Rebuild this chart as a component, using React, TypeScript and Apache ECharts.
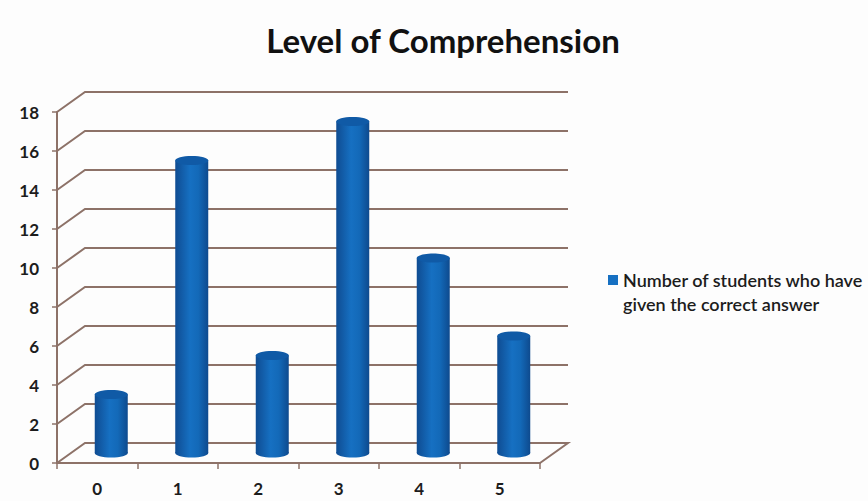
import React, { useEffect, useRef } from "react";
import * as echarts from "echarts";

const chartTitle = "Level of Comprehension";
const scores = ["0", "1", "2", "3", "4", "5"];
const studentCounts = [3, 15, 5, 17, 10, 6];
const seriesName = "Number of students who have\ngiven the correct answer";
const wallTicks = [0, 2, 4, 6, 8, 10, 12, 14, 16, 18];

const DEPTH_X = 28;
const DEPTH_Y = 20;
const FONT = "Lato, 'Noto Sans', sans-serif";
const LINE = "#8d7268";
const INK = "#1c1c1c";

const cylinderFill = {
  type: "linear",
  x: 0,
  y: 0,
  x2: 1,
  y2: 0,
  colorStops: [
    { offset: 0, color: "#0f4c92" },
    { offset: 0.45, color: "#1670c2" },
    { offset: 0.7, color: "#1369b8" },
    { offset: 1, color: "#0e4a8e" },
  ],
};

// Back wall and side wall rules, drawn behind the columns with the depth offset.
function renderWall(params: any, api: any) {
  const y = api.coord([0, api.value(1)])[1];
  const { x, width } = params.coordSys;
  const points: number[][] = [
    [x, y],
    [x + DEPTH_X, y - DEPTH_Y],
    [x + width + DEPTH_X, y - DEPTH_Y],
  ];
  if (api.value(1) === 0) points.push([x + width, y]);
  return {
    type: "polyline",
    shape: { points },
    style: { stroke: LINE, lineWidth: 2, fill: "none" },
    silent: true,
  };
}

// A column is a shaded body with rounded foot and a darker elliptical cap.
function renderCylinder(params: any, api: any) {
  const top = api.coord([api.value(0), api.value(1)]);
  const base = api.coord([api.value(0), 0]);
  const cx = top[0] + DEPTH_X / 2;
  const topY = top[1] - DEPTH_Y / 2;
  const baseY = base[1] - DEPTH_Y / 2;
  const rx = 16.5;
  const ry = 4.5;
  return {
    type: "group",
    children: [
      {
        type: "ellipse",
        shape: { cx, cy: baseY, rx, ry },
        style: { fill: cylinderFill },
      },
      {
        type: "rect",
        shape: { x: cx - rx, y: topY, width: rx * 2, height: baseY - topY },
        style: { fill: cylinderFill },
      },
      {
        type: "ellipse",
        shape: { cx, cy: topY, rx, ry },
        style: { fill: "#105aa6" },
      },
    ],
  };
}

export default function App() {
  const ref = useRef<HTMLDivElement>(null);

  useEffect(() => {
    const chart = echarts.init(ref.current!, undefined, { renderer: "svg" });
    chart.setOption({
      animation: false,
      backgroundColor: "#fdfdfd",
      title: {
        text: chartTitle,
        left: 438,
        top: 18,
        padding: 5,
        textAlign: "center",
        textStyle: { fontFamily: FONT, fontSize: 33, fontWeight: "bold", color: "#111" },
      },
      legend: {
        left: 608,
        top: 244,
        padding: 0,
        icon: "rect",
        itemWidth: 10,
        itemHeight: 10,
        itemGap: 0,
        selectedMode: false,
        data: [seriesName],
        // The blank first line centres the name's first line on the swatch.
        formatter: (name: string) => "\n" + name,
        textStyle: {
          fontFamily: FONT,
          fontSize: 18,
          fontWeight: 600,
          color: INK,
          lineHeight: 24,
        },
      },
      grid: { left: 57, right: 328, top: 112, bottom: 38 },
      xAxis: {
        type: "category",
        data: scores,
        axisLine: { lineStyle: { color: LINE, width: 2 } },
        axisTick: { show: true, length: 6, lineStyle: { color: LINE, width: 1.5 } },
        axisLabel: { fontFamily: FONT, fontSize: 17, fontWeight: "bold", color: INK, margin: 17 },
      },
      yAxis: {
        type: "value",
        min: 0,
        max: 18,
        interval: 2,
        splitLine: { show: false },
        axisLine: { show: true, lineStyle: { color: LINE, width: 2 } },
        axisTick: { show: true, length: 5, lineStyle: { color: LINE, width: 1.5 } },
        axisLabel: { fontFamily: FONT, fontSize: 17, fontWeight: "bold", color: INK, margin: 18 },
      },
      series: [
        {
          name: "wall",
          type: "custom",
          renderItem: renderWall,
          data: wallTicks.map((v) => [0, v]),
          encode: { x: 0, y: 1 },
          z: 1,
          silent: true,
        },
        {
          name: seriesName,
          type: "custom",
          renderItem: renderCylinder,
          data: studentCounts.map((v, i) => [i, v]),
          encode: { x: 0, y: 1 },
          itemStyle: { color: "#1670c2" },
          z: 3,
        },
      ],
    });
    return () => chart.dispose();
  }, []);

  return (
    <div
      ref={ref}
      style={{ position: "fixed", left: 0, top: 0, width: 868, height: 501 }}
    />
  );
}
